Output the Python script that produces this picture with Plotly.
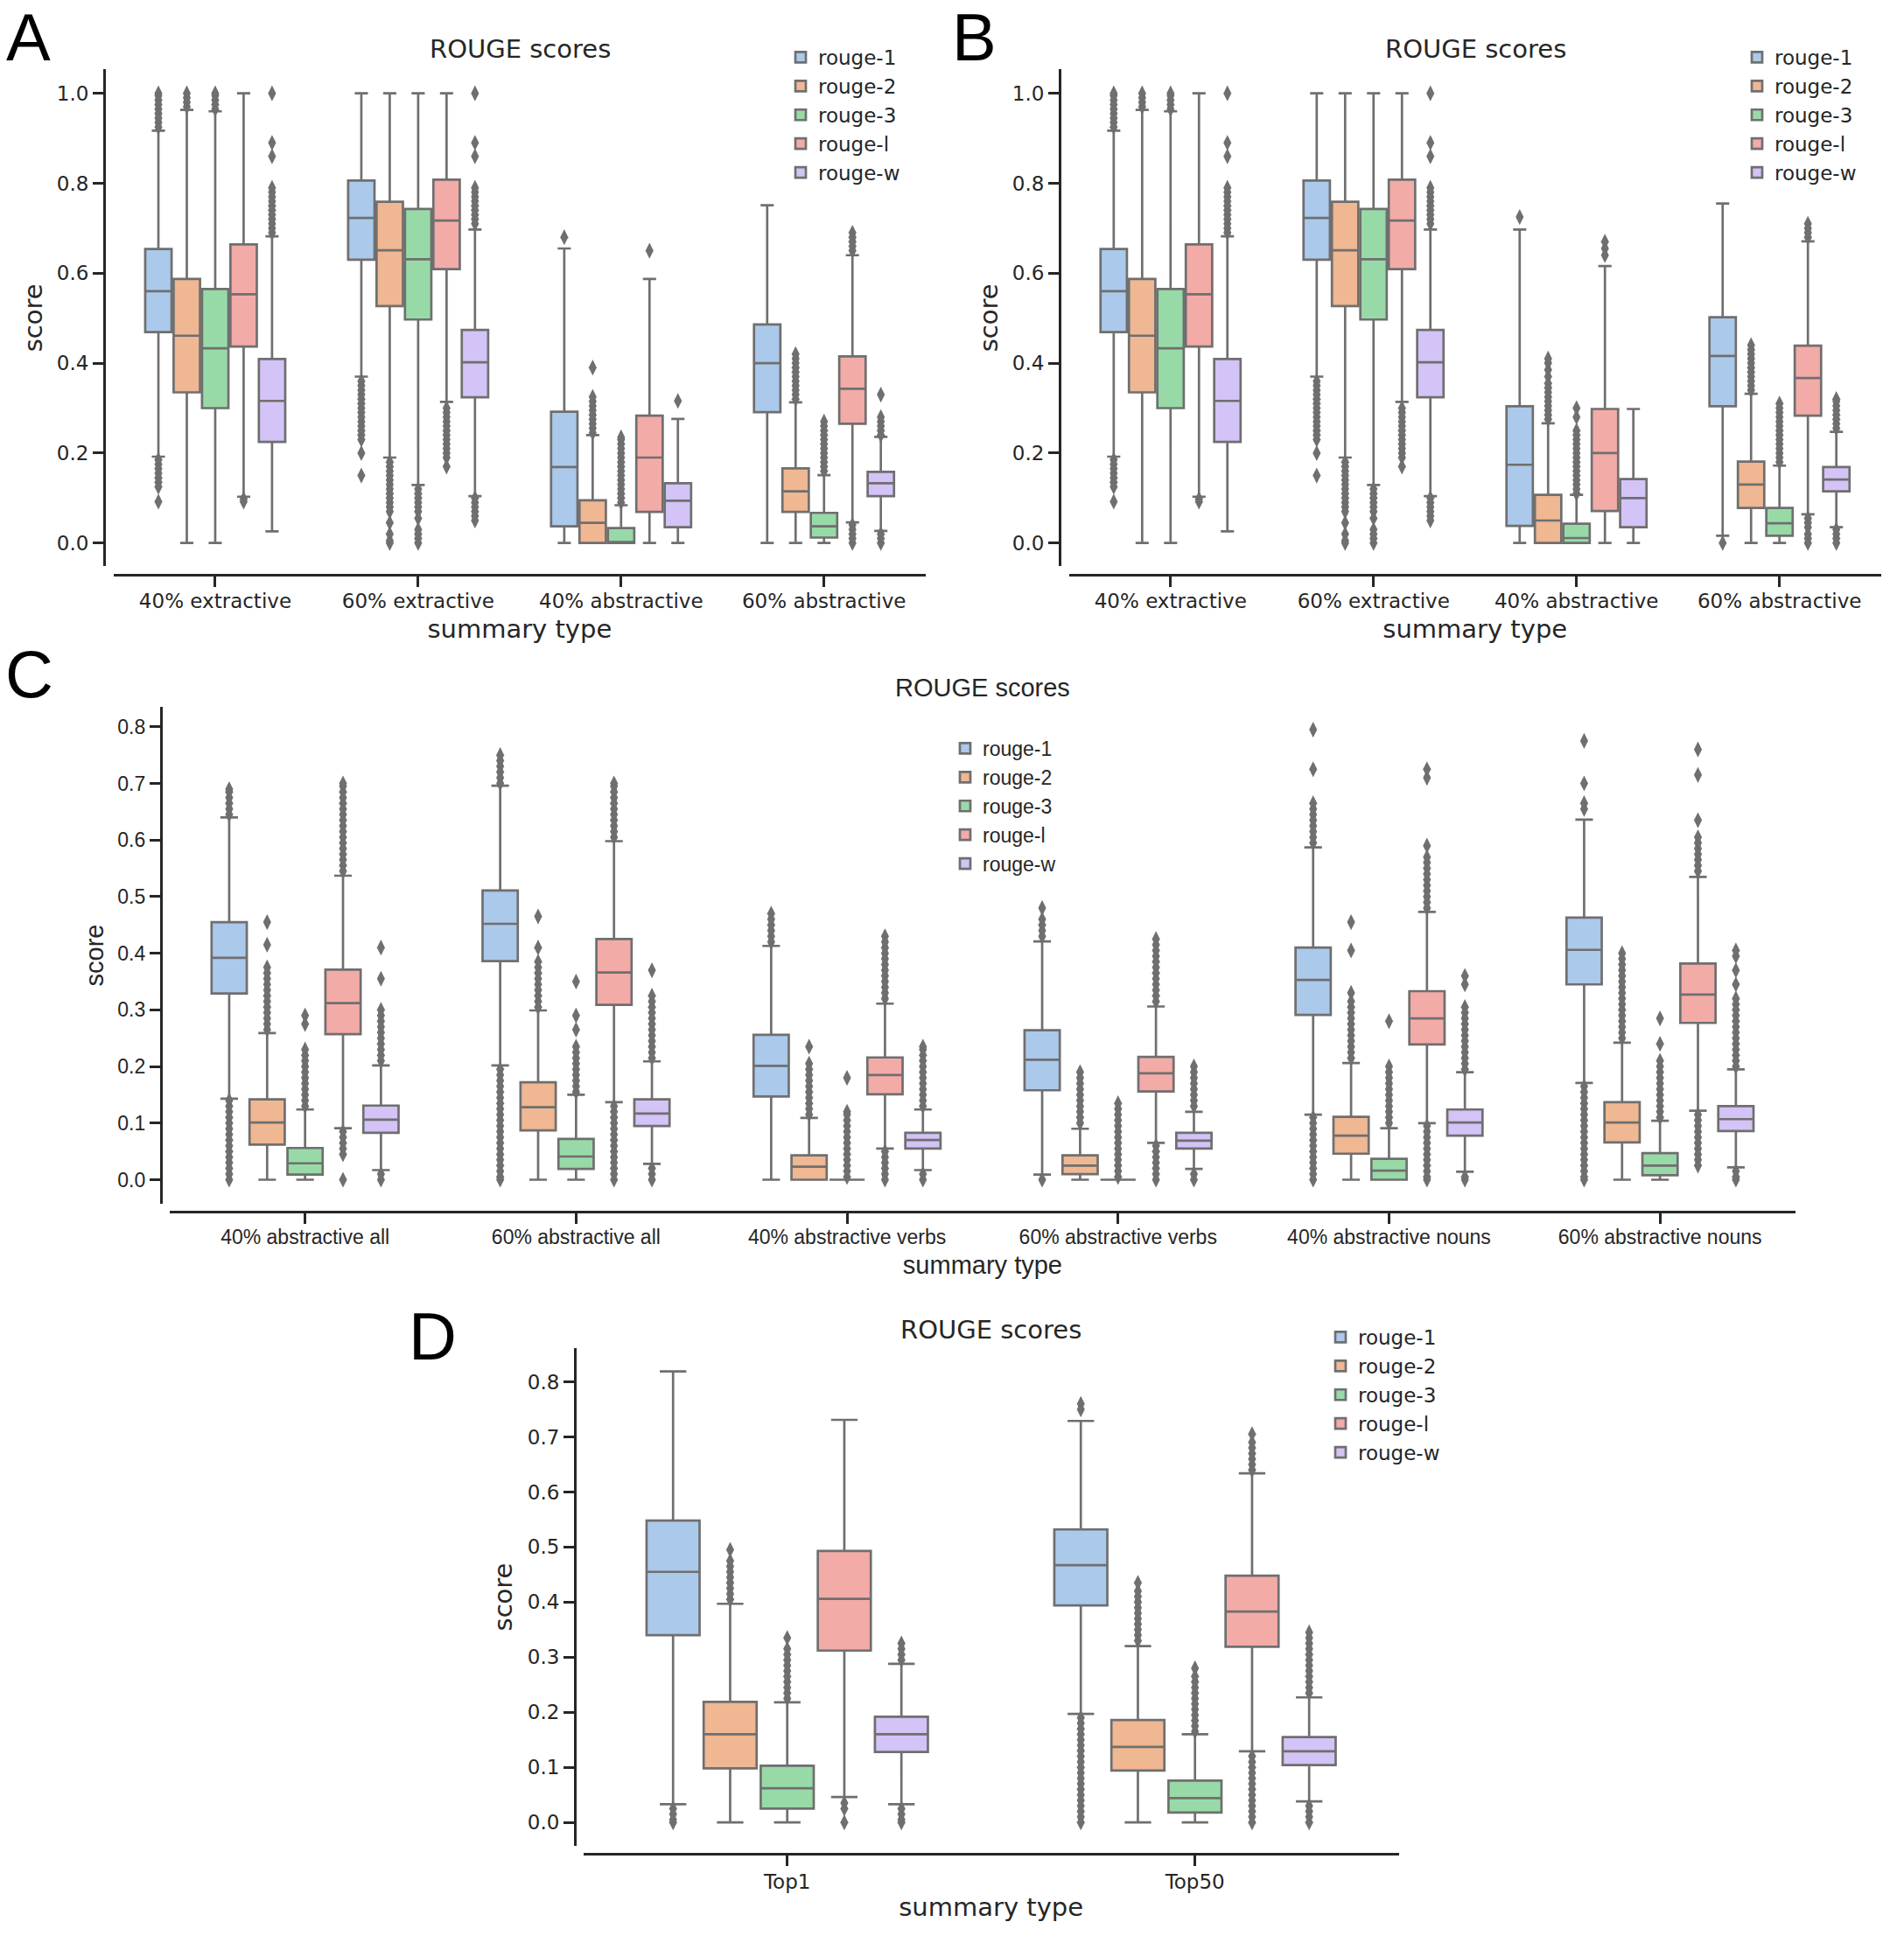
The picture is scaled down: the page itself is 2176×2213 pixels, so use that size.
import plotly.graph_objects as go

W, H = 2176, 2213

METRICS = ["rouge-1", "rouge-2", "rouge-3", "rouge-l", "rouge-w"]
FILLS = ["#abc9ea", "#efb792", "#98daa7", "#f3aba8", "#d3c3f6"]
GRAY = "#6f6f6f"
INK = "#262626"
PITCH = 0.14
BOXW = 0.13

# ---------------- Panel A ----------------
A_CATS = ["40% extractive", "60% extractive", "40% abstractive", "60% abstractive"]
A_YTICKS = [0.0, 0.2, 0.4, 0.6, 0.8, 1.0]
# rows = metrics (rouge-1, rouge-2, rouge-3, rouge-l, rouge-w); cols = categories
A_Q1 = [[0.469, 0.630, 0.037, 0.291], [0.335, 0.527, 0.000, 0.069], [0.300, 0.497, 0.000, 0.012],
        [0.437, 0.609, 0.069, 0.265], [0.225, 0.324, 0.035, 0.104]]
A_MED = [[0.560, 0.723, 0.169, 0.400], [0.461, 0.651, 0.045, 0.115], [0.433, 0.631, 0.000, 0.037],
         [0.553, 0.717, 0.190, 0.343], [0.316, 0.402, 0.094, 0.133]]
A_Q3 = [[0.654, 0.806, 0.292, 0.486], [0.587, 0.759, 0.095, 0.166], [0.565, 0.743, 0.033, 0.067],
        [0.664, 0.808, 0.283, 0.415], [0.409, 0.474, 0.133, 0.158]]
A_LO = [[0.192, 0.370, 0.0, 0.0], [0.0, 0.190, 0.0, 0.0], [0.0, 0.129, 0.0, 0.0],
        [0.103, 0.314, 0.0, 0.046], [0.026, 0.104, 0.0, 0.027]]
A_HI = [[0.917, 1.0, 0.655, 0.751], [0.963, 1.0, 0.240, 0.313], [0.960, 1.0, 0.084, 0.151],
        [1.0, 1.0, 0.587, 0.640], [0.682, 0.697, 0.276, 0.236]]
A_OUT_R1 = [[0.925, 0.935, 0.945, 0.955, 0.965, 0.975, 0.985, 0.995, 1.0,
             0.185, 0.175, 0.165, 0.155, 0.145, 0.135, 0.125, 0.092],
            [0.36, 0.35, 0.34, 0.33, 0.32, 0.31, 0.30, 0.29, 0.28, 0.27, 0.26, 0.25, 0.24, 0.23, 0.20, 0.15],
            [0.68], []]
A_OUT_R2 = [[0.97, 0.98, 0.99, 1.0],
            [0.18, 0.17, 0.16, 0.15, 0.14, 0.13, 0.12, 0.11, 0.10, 0.09, 0.08, 0.07, 0.045, 0.02, 0.005, 0.0],
            [0.245, 0.255, 0.265, 0.275, 0.285, 0.295, 0.305, 0.315, 0.325, 0.39],
            [0.32, 0.33, 0.34, 0.35, 0.36, 0.37, 0.38, 0.39, 0.40, 0.41, 0.42]]
A_OUT_R3 = [[0.965, 0.975, 0.985, 0.995, 1.0],
            [0.12, 0.11, 0.10, 0.09, 0.08, 0.07, 0.055, 0.03, 0.02, 0.01, 0.0],
            [0.09, 0.10, 0.11, 0.12, 0.13, 0.14, 0.15, 0.16, 0.17, 0.18, 0.19, 0.20, 0.21, 0.22, 0.23, 0.235],
            [0.16, 0.17, 0.18, 0.19, 0.20, 0.21, 0.22, 0.23, 0.24, 0.25, 0.26, 0.27]]
A_OUT_RL = [[0.098, 0.092],
            [0.30, 0.29, 0.28, 0.27, 0.26, 0.25, 0.24, 0.23, 0.22, 0.21, 0.20, 0.19, 0.17],
            [0.65],
            [0.65, 0.66, 0.67, 0.68, 0.69, 0.04, 0.03, 0.02, 0.01, 0.0]]
A_OUT_RW = [[0.69, 0.70, 0.71, 0.72, 0.73, 0.74, 0.75, 0.76, 0.77, 0.78, 0.79, 0.86, 0.89, 1.0],
            [0.71, 0.72, 0.73, 0.74, 0.75, 0.76, 0.77, 0.78, 0.79, 0.86, 0.89, 1.0,
             0.10, 0.09, 0.08, 0.07, 0.06, 0.05],
            [0.316],
            [0.24, 0.25, 0.26, 0.27, 0.28, 0.33, 0.02, 0.01, 0.0]]

# ---------------- Panel B ----------------
B_CATS = ["40% extractive", "60% extractive", "40% abstractive", "60% abstractive"]
B_YTICKS = [0.0, 0.2, 0.4, 0.6, 0.8, 1.0]
B_Q1 = [[0.469, 0.630, 0.038, 0.304], [0.335, 0.527, 0.0, 0.078], [0.300, 0.497, 0.0, 0.016],
        [0.437, 0.609, 0.071, 0.283], [0.225, 0.324, 0.035, 0.115]]
B_MED = [[0.560, 0.723, 0.174, 0.416], [0.461, 0.651, 0.050, 0.130], [0.433, 0.631, 0.011, 0.044],
         [0.553, 0.717, 0.200, 0.367], [0.316, 0.402, 0.100, 0.141]]
B_Q3 = [[0.654, 0.806, 0.304, 0.502], [0.587, 0.759, 0.107, 0.181], [0.565, 0.743, 0.043, 0.078],
        [0.664, 0.808, 0.298, 0.439], [0.409, 0.474, 0.142, 0.169]]
B_LO = [[0.192, 0.370, 0.0, 0.016], [0.0, 0.190, 0.0, 0.0], [0.0, 0.129, 0.0, 0.0],
        [0.103, 0.314, 0.0, 0.064], [0.026, 0.104, 0.0, 0.035]]
B_HI = [[0.917, 1.0, 0.697, 0.755], [0.963, 1.0, 0.266, 0.332], [0.960, 1.0, 0.107, 0.172],
        [1.0, 1.0, 0.616, 0.671], [0.682, 0.697, 0.298, 0.247]]
B_OUT_R1 = [[0.925, 0.935, 0.945, 0.955, 0.965, 0.975, 0.985, 0.995, 1.0,
             0.185, 0.175, 0.165, 0.155, 0.145, 0.135, 0.125, 0.092],
            [0.36, 0.35, 0.34, 0.33, 0.32, 0.31, 0.30, 0.29, 0.28, 0.27, 0.26, 0.25, 0.24, 0.23, 0.20, 0.15],
            [0.725], [0.0]]
B_OUT_R2 = [[0.97, 0.98, 0.99, 1.0],
            [0.18, 0.17, 0.16, 0.15, 0.14, 0.13, 0.12, 0.11, 0.10, 0.09, 0.08, 0.07, 0.045, 0.02, 0.005, 0.0],
            [0.275, 0.285, 0.295, 0.305, 0.315, 0.325, 0.335, 0.345, 0.355, 0.37, 0.385, 0.40, 0.41],
            [0.34, 0.35, 0.36, 0.37, 0.38, 0.39, 0.40, 0.41, 0.42, 0.43, 0.44]]
B_OUT_R3 = [[0.965, 0.975, 0.985, 0.995, 1.0],
            [0.12, 0.11, 0.10, 0.09, 0.08, 0.07, 0.055, 0.03, 0.02, 0.01, 0.0],
            [0.11, 0.12, 0.13, 0.14, 0.15, 0.16, 0.17, 0.18, 0.19, 0.20, 0.21, 0.22, 0.23, 0.24, 0.25, 0.28, 0.30],
            [0.18, 0.19, 0.20, 0.21, 0.22, 0.23, 0.24, 0.25, 0.26, 0.27, 0.28, 0.29, 0.30, 0.31]]
B_OUT_RL = [[0.098, 0.092],
            [0.30, 0.29, 0.28, 0.27, 0.26, 0.25, 0.24, 0.23, 0.22, 0.21, 0.20, 0.19, 0.17],
            [0.64, 0.655, 0.67],
            [0.68, 0.69, 0.70, 0.71, 0.055, 0.045, 0.035, 0.02, 0.01, 0.0]]
B_OUT_RW = [[0.69, 0.70, 0.71, 0.72, 0.73, 0.74, 0.75, 0.76, 0.77, 0.78, 0.79, 0.86, 0.89, 1.0],
            [0.71, 0.72, 0.73, 0.74, 0.75, 0.76, 0.77, 0.78, 0.79, 0.86, 0.89, 1.0,
             0.10, 0.09, 0.08, 0.07, 0.06, 0.05],
            [],
            [0.255, 0.265, 0.275, 0.285, 0.295, 0.305, 0.315, 0.32, 0.03, 0.02, 0.01, 0.0]]

# ---------------- Panel C ----------------
C_CATS = ["40% abstractive all", "60% abstractive all", "40% abstractive verbs",
          "60% abstractive verbs", "40% abstractive nouns", "60% abstractive nouns"]
C_YTICKS = [0.0, 0.1, 0.2, 0.3, 0.4, 0.5, 0.6, 0.7, 0.8]
C_Q1 = [[0.329, 0.386, 0.147, 0.158, 0.291, 0.345], [0.062, 0.087, 0.0, 0.010, 0.046, 0.066],
        [0.009, 0.019, 0.0, 0.0, 0.0, 0.008], [0.257, 0.309, 0.151, 0.156, 0.239, 0.277],
        [0.083, 0.095, 0.055, 0.055, 0.078, 0.086]]
C_MED = [[0.392, 0.452, 0.201, 0.212, 0.353, 0.406], [0.101, 0.128, 0.023, 0.025, 0.078, 0.101],
         [0.029, 0.041, 0.0, 0.0, 0.016, 0.025], [0.312, 0.366, 0.185, 0.188, 0.285, 0.327],
         [0.106, 0.117, 0.070, 0.069, 0.101, 0.107]]
C_Q3 = [[0.455, 0.511, 0.256, 0.264, 0.410, 0.463], [0.142, 0.172, 0.043, 0.043, 0.111, 0.137],
        [0.056, 0.072, 0.0, 0.0, 0.037, 0.047], [0.371, 0.425, 0.216, 0.217, 0.333, 0.382],
        [0.131, 0.142, 0.083, 0.083, 0.124, 0.130]]
C_LO = [[0.143, 0.202, 0.0, 0.009, 0.115, 0.171], [0.0, 0.0, 0.0, 0.0, 0.0, 0.0],
        [0.0, 0.0, 0.0, 0.0, 0.0, 0.0], [0.091, 0.137, 0.055, 0.065, 0.100, 0.122],
        [0.017, 0.028, 0.017, 0.019, 0.014, 0.022]]
C_HI = [[0.640, 0.696, 0.413, 0.421, 0.587, 0.636], [0.259, 0.299, 0.109, 0.090, 0.206, 0.242],
        [0.124, 0.150, 0.0, 0.0, 0.091, 0.104], [0.537, 0.598, 0.311, 0.306, 0.473, 0.535],
        [0.202, 0.209, 0.124, 0.120, 0.190, 0.195]]
C_OUT_R1 = [[0.645, 0.655, 0.665, 0.675, 0.685, 0.69,
             0.14, 0.13, 0.12, 0.11, 0.10, 0.09, 0.08, 0.07, 0.06, 0.05, 0.04, 0.03, 0.02, 0.01, 0.0],
            [0.70, 0.71, 0.72, 0.73, 0.74, 0.75,
             0.195, 0.185, 0.175, 0.165, 0.155, 0.145, 0.135, 0.125, 0.115, 0.105, 0.095, 0.085,
             0.075, 0.065, 0.055, 0.045, 0.035, 0.025, 0.015, 0.005, 0.0],
            [0.42, 0.43, 0.44, 0.45, 0.46, 0.47],
            [0.43, 0.44, 0.45, 0.46, 0.48, 0.0],
            [0.595, 0.605, 0.615, 0.625, 0.635, 0.645, 0.655, 0.665, 0.725, 0.795,
             0.11, 0.10, 0.09, 0.08, 0.07, 0.06, 0.05, 0.04, 0.03, 0.02, 0.01, 0.0],
            [0.655, 0.665, 0.70, 0.775,
             0.165, 0.155, 0.145, 0.135, 0.125, 0.115, 0.105, 0.095, 0.085, 0.075, 0.065,
             0.055, 0.045, 0.035, 0.025, 0.015, 0.005, 0.0]]
C_OUT_R2 = [[0.265, 0.275, 0.285, 0.295, 0.305, 0.315, 0.325, 0.335, 0.345, 0.355, 0.365, 0.375, 0.415, 0.455],
            [0.305, 0.315, 0.325, 0.335, 0.345, 0.355, 0.365, 0.375, 0.385, 0.41, 0.465],
            [0.115, 0.125, 0.135, 0.145, 0.155, 0.165, 0.175, 0.185, 0.195, 0.205, 0.235],
            [0.10, 0.11, 0.12, 0.13, 0.14, 0.15, 0.16, 0.17, 0.18, 0.19],
            [0.215, 0.225, 0.235, 0.245, 0.255, 0.265, 0.275, 0.285, 0.295, 0.305, 0.315, 0.33, 0.405, 0.455],
            [0.25, 0.26, 0.27, 0.28, 0.29, 0.30, 0.31, 0.32, 0.33, 0.34, 0.35, 0.36, 0.37, 0.38, 0.39, 0.40]]
C_OUT_R3 = [[0.13, 0.14, 0.15, 0.16, 0.17, 0.18, 0.19, 0.20, 0.21, 0.22, 0.23, 0.275, 0.29],
            [0.155, 0.165, 0.175, 0.185, 0.195, 0.205, 0.215, 0.225, 0.235, 0.265, 0.29, 0.35],
            [0.005, 0.015, 0.025, 0.035, 0.045, 0.055, 0.065, 0.075, 0.085, 0.095, 0.105, 0.115, 0.12, 0.18],
            [0.005, 0.015, 0.025, 0.035, 0.045, 0.055, 0.065, 0.075, 0.085, 0.095, 0.105, 0.115, 0.125, 0.135],
            [0.10, 0.11, 0.12, 0.13, 0.14, 0.15, 0.16, 0.17, 0.18, 0.19, 0.20, 0.28],
            [0.11, 0.12, 0.13, 0.14, 0.15, 0.16, 0.17, 0.18, 0.19, 0.20, 0.21, 0.24, 0.285]]
C_OUT_RL = [[0.545, 0.555, 0.565, 0.575, 0.585, 0.595, 0.605, 0.615, 0.625, 0.635, 0.645, 0.655,
             0.665, 0.675, 0.685, 0.695, 0.70, 0.085, 0.075, 0.065, 0.055, 0.045, 0.0],
            [0.605, 0.615, 0.625, 0.635, 0.645, 0.655, 0.665, 0.675, 0.685, 0.695, 0.70,
             0.13, 0.12, 0.11, 0.10, 0.09, 0.08, 0.07, 0.06, 0.05, 0.04, 0.03, 0.02, 0.01, 0.0],
            [0.32, 0.33, 0.34, 0.35, 0.36, 0.37, 0.38, 0.39, 0.40, 0.41, 0.42, 0.43,
             0.05, 0.04, 0.03, 0.02, 0.01, 0.0],
            [0.315, 0.325, 0.335, 0.345, 0.355, 0.365, 0.375, 0.385, 0.395, 0.405, 0.415, 0.425,
             0.06, 0.05, 0.04, 0.03, 0.02, 0.01, 0.0],
            [0.48, 0.49, 0.50, 0.51, 0.52, 0.53, 0.54, 0.55, 0.56, 0.57, 0.59, 0.71, 0.725,
             0.095, 0.085, 0.075, 0.065, 0.055, 0.045, 0.035, 0.025, 0.015, 0.005, 0.0],
            [0.545, 0.555, 0.565, 0.575, 0.585, 0.595, 0.605, 0.635, 0.715, 0.76,
             0.115, 0.105, 0.095, 0.085, 0.075, 0.065, 0.055, 0.045, 0.035, 0.025]]
C_OUT_RW = [[0.21, 0.22, 0.23, 0.24, 0.25, 0.26, 0.27, 0.28, 0.29, 0.30, 0.355, 0.41, 0.01, 0.0],
            [0.215, 0.225, 0.235, 0.245, 0.255, 0.265, 0.275, 0.285, 0.295, 0.305, 0.315, 0.325, 0.37,
             0.02, 0.01, 0.0],
            [0.13, 0.14, 0.15, 0.16, 0.17, 0.18, 0.19, 0.20, 0.21, 0.22, 0.23, 0.235, 0.01, 0.0],
            [0.13, 0.14, 0.15, 0.16, 0.17, 0.18, 0.19, 0.20, 0.01, 0.0],
            [0.195, 0.205, 0.215, 0.225, 0.235, 0.245, 0.255, 0.265, 0.275, 0.285, 0.295, 0.305, 0.345, 0.36,
             0.005, 0.0],
            [0.20, 0.21, 0.22, 0.23, 0.24, 0.25, 0.26, 0.27, 0.28, 0.29, 0.30, 0.31, 0.32, 0.345, 0.37,
             0.395, 0.405, 0.015, 0.005, 0.0]]

# ---------------- Panel D ----------------
D_CATS = ["Top1", "Top50"]
D_YTICKS = [0.0, 0.1, 0.2, 0.3, 0.4, 0.5, 0.6, 0.7, 0.8]
D_Q1 = [[0.340, 0.394], [0.098, 0.094], [0.025, 0.018], [0.312, 0.319], [0.128, 0.104]]
D_MED = [[0.455, 0.467], [0.160, 0.137], [0.062, 0.044], [0.406, 0.383], [0.160, 0.129]]
D_Q3 = [[0.548, 0.532], [0.219, 0.186], [0.103, 0.076], [0.493, 0.448], [0.192, 0.155]]
D_LO = [[0.033, 0.197], [0.0, 0.0], [0.0, 0.0], [0.046, 0.129], [0.033, 0.038]]
D_HI = [[0.819, 0.729], [0.397, 0.320], [0.218, 0.160], [0.731, 0.634], [0.288, 0.227]]
D_OUT_R1 = [[0.025, 0.015, 0.005, 0.0],
            [0.75, 0.76, 0.19, 0.18, 0.17, 0.16, 0.15, 0.14, 0.13, 0.12, 0.11, 0.10, 0.09, 0.08, 0.07,
             0.06, 0.05, 0.04, 0.03, 0.02, 0.01, 0.0]]
D_OUT_R2 = [[0.405, 0.415, 0.425, 0.435, 0.445, 0.455, 0.465, 0.475, 0.495],
            [0.33, 0.34, 0.35, 0.36, 0.37, 0.38, 0.39, 0.40, 0.41, 0.42, 0.435]]
D_OUT_R3 = [[0.225, 0.235, 0.245, 0.255, 0.265, 0.275, 0.285, 0.295, 0.305, 0.315, 0.335],
            [0.165, 0.175, 0.185, 0.195, 0.205, 0.215, 0.225, 0.235, 0.245, 0.255, 0.265, 0.28]]
D_OUT_RL = [[0.035, 0.025, 0.0],
            [0.64, 0.65, 0.66, 0.67, 0.68, 0.69, 0.705,
             0.12, 0.11, 0.10, 0.09, 0.08, 0.07, 0.06, 0.05, 0.04, 0.03, 0.02, 0.01, 0.0]]
D_OUT_RW = [[0.295, 0.305, 0.315, 0.325, 0.025, 0.015, 0.005, 0.0],
            [0.235, 0.245, 0.255, 0.265, 0.275, 0.285, 0.295, 0.305, 0.315, 0.325, 0.335, 0.345,
             0.03, 0.02, 0.01, 0.0]]


def px_x(v):
    return v / W


def px_y(v):
    return 1 - v / H


fig = go.Figure()


def add_panel(k, cats, q1, med, q3, lo, hi, outs):
    xa = "x" if k == 1 else f"x{k}"
    ya = "y" if k == 1 else f"y{k}"
    leg = "legend" if k == 1 else f"legend{k}"
    for j, m in enumerate(METRICS):
        xs = [i + (j - 2) * PITCH for i in range(len(cats))]
        fig.add_trace(go.Box(
            x=xs, q1=q1[j], median=med[j], q3=q3[j], lowerfence=lo[j], upperfence=hi[j],
            orientation="v", name=m, width=BOXW, fillcolor=FILLS[j],
            line=dict(color=GRAY, width=2.7), whiskerwidth=0.5, boxpoints=False,
            xaxis=xa, yaxis=ya, legend=leg, showlegend=True, hoverinfo="skip"))
    for j, m in enumerate(METRICS):
        ox, oy = [], []
        for i, vals in enumerate(outs[j]):
            ox += [i + (j - 2) * PITCH] * len(vals)
            oy += list(vals)
        fig.add_trace(go.Scatter(
            x=ox, y=oy, mode="markers", name=m + " outliers",
            marker=dict(symbol="diamond-tall", size=13, color=GRAY, line=dict(width=0)),
            showlegend=False, xaxis=xa, yaxis=ya, hoverinfo="skip"))


add_panel(1, A_CATS, A_Q1, A_MED, A_Q3, A_LO, A_HI, [A_OUT_R1, A_OUT_R2, A_OUT_R3, A_OUT_RL, A_OUT_RW])
add_panel(2, B_CATS, B_Q1, B_MED, B_Q3, B_LO, B_HI, [B_OUT_R1, B_OUT_R2, B_OUT_R3, B_OUT_RL, B_OUT_RW])
add_panel(3, C_CATS, C_Q1, C_MED, C_Q3, C_LO, C_HI, [C_OUT_R1, C_OUT_R2, C_OUT_R3, C_OUT_RL, C_OUT_RW])
add_panel(4, D_CATS, D_Q1, D_MED, D_Q3, D_LO, D_HI, [D_OUT_R1, D_OUT_R2, D_OUT_R3, D_OUT_RL, D_OUT_RW])

DEJAVU = "DejaVu Sans"
ARIAL = "Liberation Sans"


def axes(k, cats, yticks, xdom_px, ydom_px, yrange, yline_px, xline_px, family, tsize,
         xstand, ystand, lblshift, ticklen=12):
    xname = "xaxis" if k == 1 else f"xaxis{k}"
    yname = "yaxis" if k == 1 else f"yaxis{k}"
    common = dict(showline=True, linecolor=INK, linewidth=3, ticks="outside", ticklen=ticklen,
                  tickwidth=3, tickcolor=INK, showgrid=False, zeroline=False,
                  tickfont=dict(family=family, size=tsize, color=INK))
    xa = dict(common, type="linear", domain=[px_x(xdom_px[0]), px_x(xdom_px[1])],
              range=[-0.5, len(cats) - 0.5], anchor="free", position=px_y(xline_px),
              tickmode="array", tickvals=list(range(len(cats))), ticktext=cats,
              ticklabelstandoff=lblshift,
              title=dict(text="summary type", font=dict(family=family, size=29, color=INK),
                         standoff=xstand))
    ya = dict(common, domain=[px_y(ydom_px[1]), px_y(ydom_px[0])], range=yrange,
              anchor="free", position=px_x(yline_px), tickmode="array", tickvals=yticks,
              tickformat=".1f",
              title=dict(text="score", font=dict(family=family, size=29, color=INK),
                         standoff=ystand))
    fig.update_layout(**{xname: xa, yname: ya})


axes(1, A_CATS, A_YTICKS, (130, 1057.7), (79.3, 647.3), [-0.0518, 1.0533], 119, 656.7, DEJAVU, 23, 9, 6, -3)
axes(2, B_CATS, B_YTICKS, (1221.8, 2149.7), (79.3, 647.3), [-0.0518, 1.0533], 1211, 656.7, DEJAVU, 23, 9, 6, -3)
axes(3, C_CATS, C_YTICKS, (193.8, 2052), (808.4, 1375.5), [-0.0417, 0.8346], 183.8, 1384.8, ARIAL, 23, 9, 6, -4)
axes(4, D_CATS, D_YTICKS, (666.7, 1598.7), (1540.8, 2110.2), [-0.043, 0.8616], 657, 2119.1, DEJAVU, 23, 6, 7, -2)


def legend_cfg(x_px, top_px, family):
    return dict(x=px_x(x_px), y=px_y(top_px), xanchor="left", yanchor="top",
                font=dict(family=family, size=23, color=INK), bgcolor="rgba(0,0,0,0)",
                borderwidth=0, traceorder="normal", itemclick=False, itemdoubleclick=False)


fig.update_layout(
    legend=legend_cfg(895, 44, DEJAVU),
    legend2=legend_cfg(1988, 44, DEJAVU),
    legend3=legend_cfg(1083, 834, ARIAL),
    legend4=legend_cfg(1512, 1507, DEJAVU),
)

annots = []
for txt, cx, cy, fam in [("ROUGE scores", 594, 56, DEJAVU), ("ROUGE scores", 1686, 56, DEJAVU),
                         ("ROUGE scores", 1123, 786, ARIAL), ("ROUGE scores", 1132.7, 1520, DEJAVU)]:
    annots.append(dict(text=txt, x=px_x(cx), y=px_y(cy), xref="paper", yref="paper",
                       xanchor="center", yanchor="middle", showarrow=False,
                       font=dict(family=fam, size=29, color=INK)))
for txt, lx, cy in [("A", 5, 42), ("B", 1086, 42), ("C", 4, 771), ("D", 465, 1527)]:
    annots.append(dict(text=txt, x=px_x(lx), y=px_y(cy), xref="paper", yref="paper",
                       xanchor="left", yanchor="middle", showarrow=False,
                       font=dict(family=ARIAL, size=76, color="#000000")))

fig.update_layout(
    annotations=annots,
    width=W, height=H, autosize=False,
    margin=dict(l=0, r=0, t=0, b=0),
    paper_bgcolor="white", plot_bgcolor="white",
    boxmode="overlay", showlegend=True,
)

fig.write_html("out.html", config={"displayModeBar": False},
               post_script="document.body.style.margin='0';document.body.style.overflow='hidden';")
